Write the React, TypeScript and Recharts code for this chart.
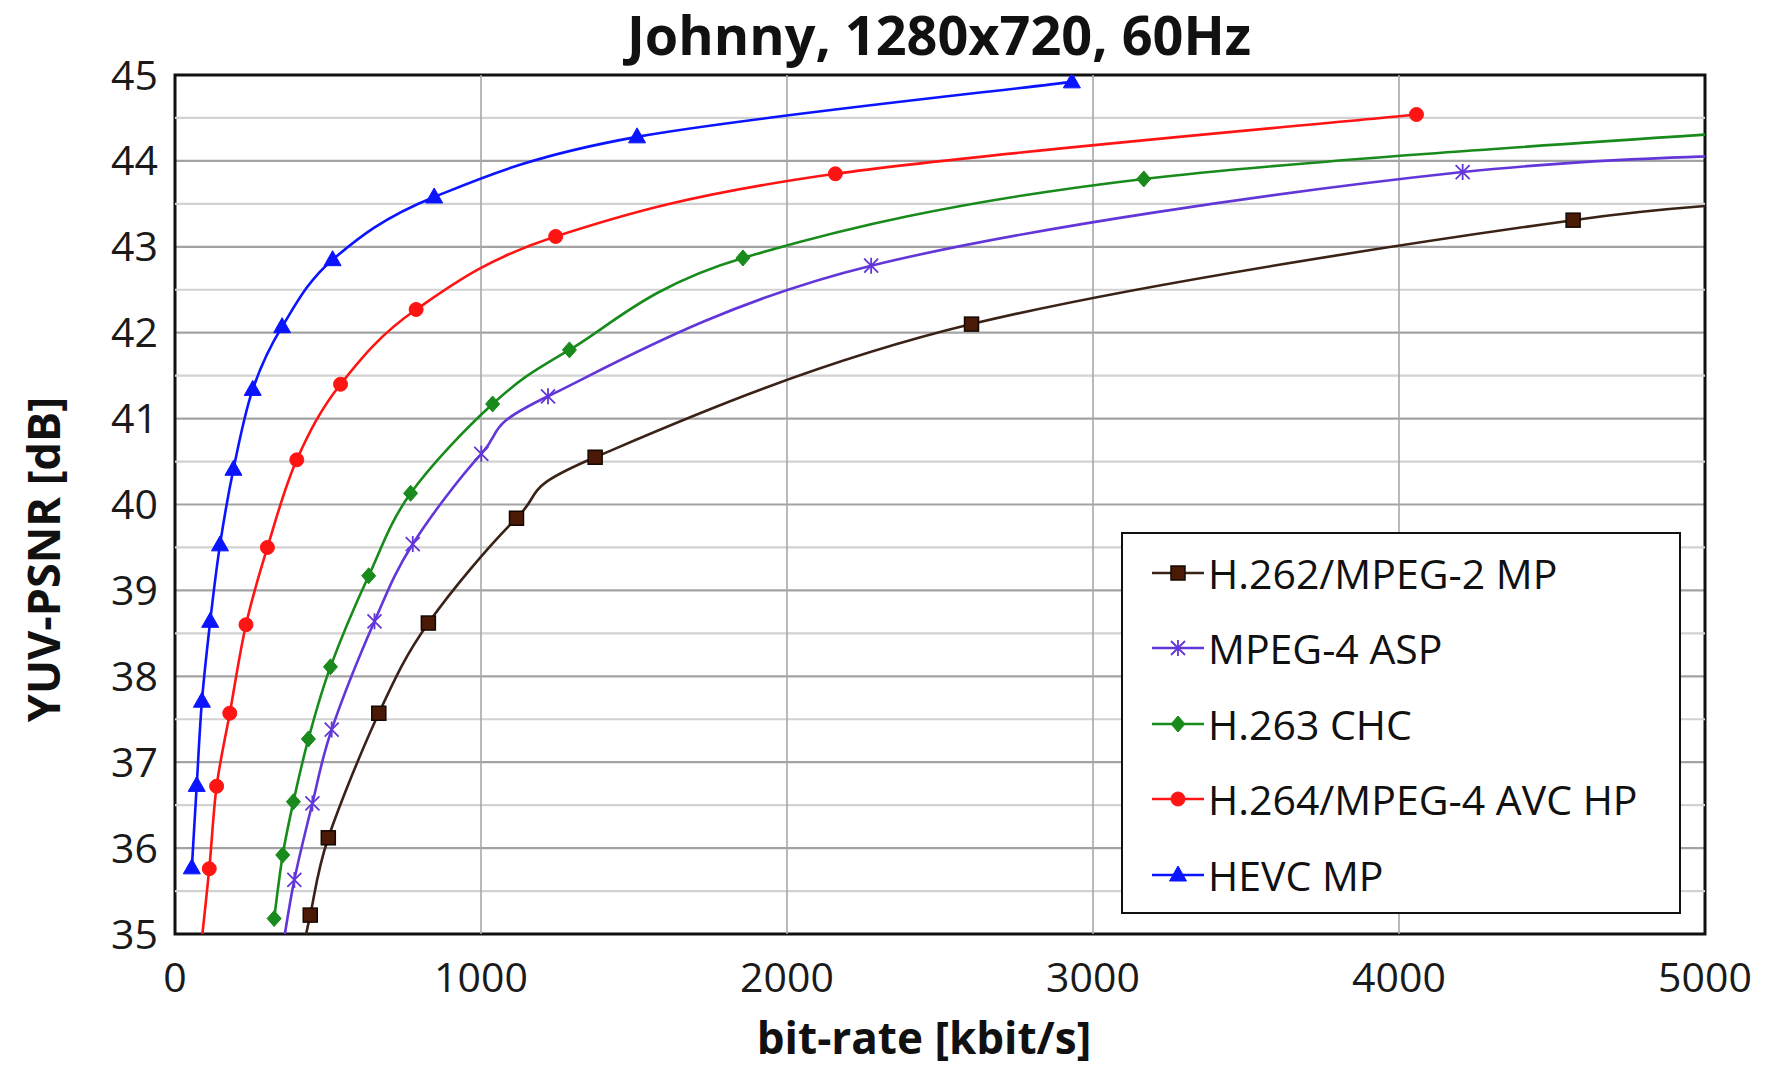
import React from 'react';
import {
  LineChart,
  Line,
  XAxis,
  YAxis,
  CartesianGrid,
  ReferenceLine,
  ReferenceArea,
  Legend,
  Label,
} from 'recharts';

const FONT = "'Open Sans', 'Noto Sans', sans-serif";

const seriesNames = ['H.262/MPEG-2 MP', 'MPEG-4 ASP', 'H.263 CHC', 'H.264/MPEG-4 AVC HP', 'HEVC MP'];

// bit-rate [kbit/s] and YUV-PSNR [dB] (first/last points may sit outside the axes)
const h262Rate = [420, 442, 501, 666, 828, 1116, 1373, 2603, 4569, 5600];
const h262Psnr = [34.85, 35.22, 36.12, 37.57, 38.62, 39.84, 40.55, 42.1, 43.31, 43.58];

const mpeg4Rate = [350, 390, 449, 512, 652, 777, 1001, 1219, 2275, 4208, 5800];
const mpeg4Psnr = [34.8, 35.63, 36.52, 37.38, 38.64, 39.54, 40.59, 41.26, 42.78, 43.87, 44.13];

const h263Rate = [324, 352, 387, 436, 508, 633, 770, 1038, 1289, 1856, 3166, 5600];
const h263Psnr = [35.18, 35.92, 36.54, 37.27, 38.11, 39.17, 40.13, 41.17, 41.8, 42.87, 43.79, 44.45];

const h264Rate = [82, 112, 136, 179, 232, 302, 398, 541, 788, 1244, 2158, 4057];
const h264Psnr = [34.75, 35.76, 36.72, 37.57, 38.6, 39.5, 40.52, 41.4, 42.27, 43.12, 43.85, 44.54];

const hevcRate = [55, 71, 88, 115, 147, 191, 254, 350, 515, 847, 1510, 2931];
const hevcPsnr = [35.77, 36.73, 37.71, 38.64, 39.53, 40.41, 41.34, 42.07, 42.85, 43.58, 44.28, 44.92];

const xTicks = [0, 1000, 2000, 3000, 4000, 5000];
const xGrid = [1000, 2000, 3000, 4000];
const yTicks = [35, 36, 37, 38, 39, 40, 41, 42, 43, 44, 45];
const yMinor = [35.5, 36.5, 37.5, 38.5, 39.5, 40.5, 41.5, 42.5, 43.5, 44.5];

type Shape = 'square' | 'star' | 'diamond' | 'circle' | 'triangle';

const styles: Record<string, { line: string; fill: string; edge: string; shape: Shape }> = {
  'H.262/MPEG-2 MP': { line: '#3a2216', fill: '#4a1a06', edge: '#140800', shape: 'square' },
  'MPEG-4 ASP': { line: '#6236d8', fill: '#6236d8', edge: '#6236d8', shape: 'star' },
  'H.263 CHC': { line: '#198a1c', fill: '#198a1c', edge: '#198a1c', shape: 'diamond' },
  'H.264/MPEG-4 AVC HP': { line: '#ff1414', fill: '#ff1414', edge: '#ff1414', shape: 'circle' },
  'HEVC MP': { line: '#0a14ff', fill: '#0a14ff', edge: '#0a14ff', shape: 'triangle' },
};

const toPoints = (rates: number[], psnr: number[]) => rates.map((x, i) => ({ x, y: psnr[i] }));

const seriesData = [
  toPoints(h262Rate, h262Psnr),
  toPoints(mpeg4Rate, mpeg4Psnr),
  toPoints(h263Rate, h263Psnr),
  toPoints(h264Rate, h264Psnr),
  toPoints(hevcRate, hevcPsnr),
];

// smoothed line like the spreadsheet's "smoothed line" option (Catmull-Rom as cubic beziers)
const smoothCurve = (context: any) => {
  let pts: number[][] = [];
  return {
    areaStart() {},
    areaEnd() {},
    lineStart() {
      pts = [];
    },
    point(x: number, y: number) {
      pts.push([+x, +y]);
    },
    lineEnd() {
      const n = pts.length;
      if (!n) return;
      context.moveTo(pts[0][0], pts[0][1]);
      for (let i = 0; i < n - 1; i++) {
        const p0 = pts[Math.max(0, i - 1)];
        const p1 = pts[i];
        const p2 = pts[i + 1];
        const p3 = pts[Math.min(n - 1, i + 2)];
        context.bezierCurveTo(
          p1[0] + (p2[0] - p0[0]) / 6,
          p1[1] + (p2[1] - p0[1]) / 6,
          p2[0] - (p3[0] - p1[0]) / 6,
          p2[1] - (p3[1] - p1[1]) / 6,
          p2[0],
          p2[1],
        );
      }
    },
  };
};

const Marker = ({ shape, cx, cy, fill, edge }: { shape: Shape; cx: number; cy: number; fill: string; edge: string }) => {
  switch (shape) {
    case 'square':
      return <rect x={cx - 7} y={cy - 7} width={14} height={14} fill={fill} stroke={edge} strokeWidth={1.5} />;
    case 'star':
      return (
        <path
          d={`M${cx - 7},${cy - 7}L${cx + 7},${cy + 7}M${cx - 7},${cy + 7}L${cx + 7},${cy - 7}M${cx},${cy - 8}L${cx},${cy + 8}`}
          stroke={edge}
          strokeWidth={1.8}
          fill="none"
        />
      );
    case 'diamond':
      return <path d={`M${cx},${cy - 8}L${cx + 7},${cy}L${cx},${cy + 8}L${cx - 7},${cy}Z`} fill={fill} stroke={edge} strokeWidth={1} />;
    case 'circle':
      return <circle cx={cx} cy={cy} r={7} fill={fill} stroke={edge} strokeWidth={1} />;
    default:
      return <path d={`M${cx},${cy - 9}L${cx + 8.5},${cy + 6}L${cx - 8.5},${cy + 6}Z`} fill={fill} stroke={edge} strokeWidth={1} />;
  }
};

const makeDot = (name: string) => (props: any) => {
  const st = styles[name];
  if (props.cx == null || props.cy == null) return <g key={`${name}-${props.index}`} />;
  return (
    <g key={`${name}-${props.index}`}>
      <Marker shape={st.shape} cx={props.cx} cy={props.cy} fill={st.fill} edge={st.edge} />
    </g>
  );
};

const renderLegend = (props: any) => {
  const payload = [...(props.payload || [])].sort(
    (a: any, b: any) => seriesNames.indexOf(a.value) - seriesNames.indexOf(b.value),
  );
  return (
    <div
      style={{
        width: 560,
        height: 382,
        boxSizing: 'border-box',
        border: '2.5px solid #111',
        background: '#fff',
        paddingTop: 1,
        fontFamily: FONT,
      }}
    >
      {payload.map((entry: any) => {
        const st = styles[entry.value];
        return (
          <div key={entry.value} style={{ display: 'flex', alignItems: 'center', height: 75.5 }}>
            <svg width={56} height={30} style={{ marginLeft: 27 }}>
              <line x1={2} y1={15} x2={54} y2={15} stroke={st.line} strokeWidth={2.5} />
              <Marker shape={st.shape} cx={28} cy={15} fill={st.fill} edge={st.edge} />
            </svg>
            <span style={{ fontSize: 41, color: '#111', marginLeft: 2, whiteSpace: 'nowrap' }}>{entry.value}</span>
          </div>
        );
      })}
    </div>
  );
};

const YTitle = (props: any) => {
  const vb = props.viewBox || { x: 0, y: 0, height: 0 };
  const cx = vb.x + 42;
  const cy = vb.y + vb.height / 2 + 55;
  return (
    <text
      x={cx}
      y={cy}
      transform={`rotate(-90, ${cx}, ${cy})`}
      textAnchor="middle"
      dominantBaseline="central"
      fontFamily={FONT}
      fontWeight={700}
      fontSize={45}
      fill="#111"
    >
      YUV-PSNR [dB]
    </text>
  );
};

const XTitle = (props: any) => {
  const vb = props.viewBox || { x: 0, y: 0, width: 0 };
  return (
    <text
      x={vb.x + vb.width / 2 - 16}
      y={vb.y + 120}
      textAnchor="middle"
      fontFamily={FONT}
      fontWeight={700}
      fontSize={44}
      fill="#111"
    >
      bit-rate [kbit/s]
    </text>
  );
};

export default function App() {
  return (
    <div style={{ position: 'absolute', left: 0, top: 0, width: 1767, height: 1069, background: '#fff' }}>
      <div
        style={{
          position: 'absolute',
          left: 0,
          width: 1878,
          top: 4,
          textAlign: 'center',
          fontFamily: FONT,
          fontWeight: 700,
          fontSize: 54,
          lineHeight: '60px',
          color: '#111',
          zIndex: 2,
        }}
      >
        Johnny, 1280x720, 60Hz
      </div>
      <LineChart width={1767} height={1069} margin={{ top: 75, right: 62, bottom: 0, left: 0 }}>
        <CartesianGrid horizontal vertical={false} stroke="#a3a3a3" strokeWidth={2.2} />
        {yMinor.map((v) => (
          <ReferenceLine key={`m${v}`} y={v} stroke="#d2d2d2" strokeWidth={2.2} />
        ))}
        {xGrid.map((v) => (
          <ReferenceLine key={`g${v}`} x={v} stroke="#a8a8a8" strokeWidth={1.6} />
        ))}
        <XAxis
          type="number"
          dataKey="x"
          domain={[0, 5000]}
          ticks={xTicks}
          allowDataOverflow
          axisLine={false}
          tickLine={false}
          tickSize={0}
          tickMargin={29}
          height={135}
          tick={{ fontFamily: FONT, fontSize: 41, fill: '#1a1a1a' }}
        >
          <Label content={<XTitle />} />
        </XAxis>
        <YAxis
          type="number"
          dataKey="y"
          domain={[35, 45]}
          ticks={yTicks}
          allowDataOverflow
          axisLine={false}
          tickLine={false}
          tickSize={0}
          tickMargin={17}
          width={175}
          tick={{ fontFamily: FONT, fontSize: 41, fill: '#1a1a1a' }}
        >
          <Label content={<YTitle />} />
        </YAxis>
        <ReferenceArea x1={0} x2={5000} y1={35} y2={45} fill="none" fillOpacity={0} stroke="#111" strokeWidth={3} />
        {seriesNames.map((name, i) => (
          <Line
            key={name}
            name={name}
            data={seriesData[i]}
            dataKey="y"
            type={smoothCurve as any}
            stroke={styles[name].line}
            strokeWidth={2.6}
            dot={makeDot(name)}
            activeDot={false}
            isAnimationActive={false}
          />
        ))}
        <Legend
          layout="vertical"
          align="center"
          verticalAlign="middle"
          content={renderLegend}
          wrapperStyle={{ position: 'absolute', left: 1121, top: 532, width: 560, height: 382, margin: 0 }}
        />
      </LineChart>
    </div>
  );
}
